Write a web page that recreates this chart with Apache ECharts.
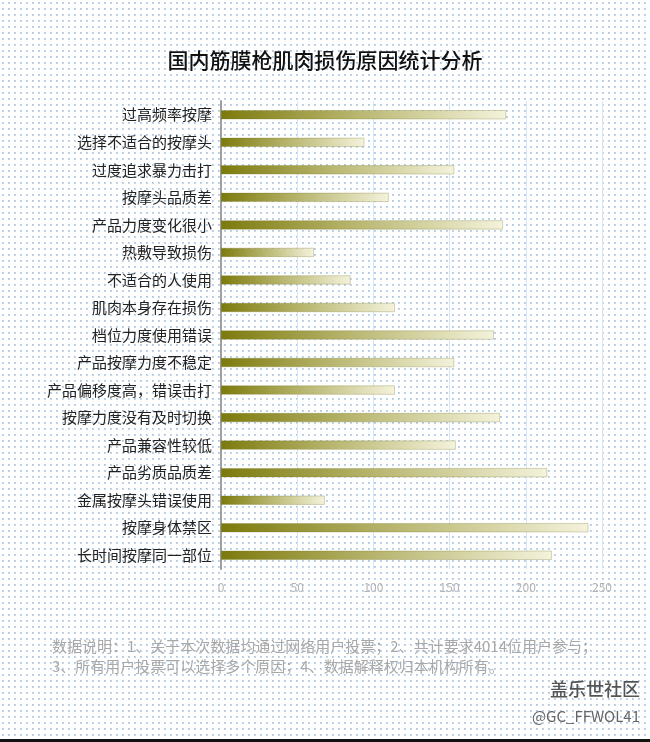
<!DOCTYPE html>
<html>
<head>
<meta charset="utf-8">
<script src="https://cdn.jsdelivr.net/npm/echarts@6/dist/echarts.min.js"></script>
<style>html,body{margin:0;padding:0;background:#fff}#c{width:650px;height:742px}</style>
</head>
<body>
<div id="c"></div>
<script>
var categories = ["过高频率按摩","选择不适合的按摩头","过度追求暴力击打","按摩头品质差","产品力度变化很小","热敷导致损伤","不适合的人使用","肌肉本身存在损伤","档位力度使用错误","产品按摩力度不稳定","产品偏移度高，错误击打","按摩力度没有及时切换","产品兼容性较低","产品劣质品质差","金属按摩头错误使用","按摩身体禁区","长时间按摩同一部位"];
var values = [187,94,153,110,185,61,85,114,179,153,114,183,154,214,68,241,217];
var xTicks = [0,50,100,150,200,250];

var pc = document.createElement('canvas');
pc.width = 6; pc.height = 6;
var ctx = pc.getContext('2d');
ctx.fillStyle = '#ffffff'; ctx.fillRect(0,0,6,6);
ctx.fillStyle = '#c4d7ea'; ctx.fillRect(2,2,2,2);
ctx.fillStyle = '#a9c3dd'; ctx.fillRect(2,2,1,1);

var chart = echarts.init(document.getElementById('c'), null, {renderer:'canvas'});
chart.setOption({
  backgroundColor: {image: pc, repeat: 'repeat'},
  animation: false,
  title: {
    text: '国内筋膜枪肌肉损伤原因统计分析',
    left: 'center', top: 50, padding: 0,
    textStyle: {fontSize: 21, fontWeight: 500, color: '#111', fontFamily: 'Noto Sans CJK SC'}
  },
  grid: {left: 221, right: 48, top: 101, bottom: 173},
  xAxis: {
    type: 'value', min: 0, max: 250, interval: 50,
    axisLine: {show: false}, axisTick: {show: false},
    axisLabel: {color: '#b4b4b4', fontSize: 12, margin: 12, fontFamily: 'Noto Sans CJK SC',
      formatter: function(v){ return xTicks.indexOf(v) >= 0 ? String(v) : ''; }},
    splitLine: {show: true, lineStyle: {color: '#d6e6f4', width: 1}}
  },
  yAxis: {
    type: 'category', data: categories, inverse: true,
    axisLine: {show: true, lineStyle: {color: '#a0a0a0', width: 2}},
    axisTick: {show: false},
    axisLabel: {color: '#222', fontSize: 15, margin: 9, fontFamily: 'Noto Sans CJK SC'}
  },
  series: [{
    type: 'bar', data: values, barWidth: 9,
    itemStyle: {
      color: new echarts.graphic.LinearGradient(0,0,1,0,[
        {offset:0, color:'#7c7a0c'},
        {offset:0.45, color:'#b5b36a'},
        {offset:1, color:'#f4f3dc'}
      ]),
      borderColor: 'rgba(110,108,30,0.55)', borderWidth: 0.5
    }
  }],
  graphic: [
    {type:'text', left: 52, top: 639, style:{text:'数据说明：1、关于本次数据均通过网络用户投票；2、共计要求4014位用户参与；', fill:'#a8a8a8', fontSize: 15, fontFamily:'Noto Sans CJK SC'}},
    {type:'text', left: 52, top: 659, style:{text:'3、所有用户投票可以选择多个原因；4、数据解释权归本机构所有。', fill:'#a8a8a8', fontSize: 15, fontFamily:'Noto Sans CJK SC'}},
    {type:'text', right: 10, top: 680, style:{text:'盖乐世社区', fill:'#555', fontSize: 18, fontWeight: 500, fontFamily:'Noto Sans CJK SC'}},
    {type:'text', right: 10, top: 709, style:{text:'@GC_FFWOL41', fill:'#666', fontSize: 15, fontFamily:'Noto Sans CJK SC'}},
    {type:'rect', left: 0, top: 739, shape:{width:650, height:3}, style:{fill:'#111'}}
  ]
});
</script>
</body>
</html>
